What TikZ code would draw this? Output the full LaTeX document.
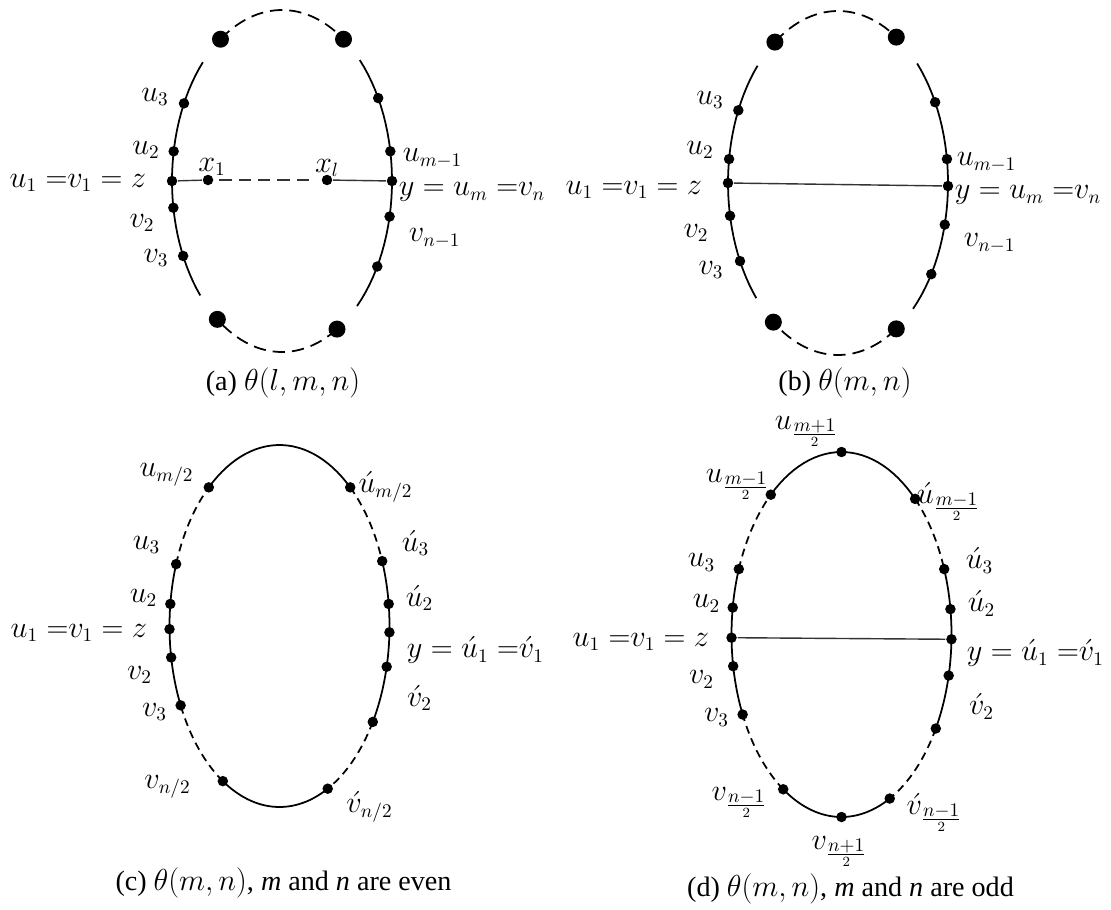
\documentclass[tikz,border=0pt]{standalone}
\usepackage{fontspec}
\setmainfont{Liberation Serif}

\tikzset{
vtx/.style={circle,fill,inner sep=0pt,minimum size=0.21cm},
bigvtx/.style={circle,fill,inner sep=0pt,minimum size=0.34cm},
lbl/.style={font=\fontsize{16}{19}\selectfont,inner sep=0pt},
captxt/.style={font=\fontsize{16}{19}\selectfont,inner sep=0pt},
longdash/.style={dash pattern=on 7pt off 4pt},
shortdash/.style={dash pattern=on 4.5pt off 3pt},
chord/.style={line width=0.8pt,black!80}
}

\begin{document}
\begin{tikzpicture}[x=0.02cm,y=-0.02cm,line width=1pt]

\useasboundingbox (0,0) rectangle (1111,909);

% theta(l,m,n)
\begin{scope}[shift={(282,181)}]
\pgfmathsetmacro{\axa}{110}
\pgfmathsetmacro{\axb}{171}

\draw plot[domain=138:224,samples=30] ({\axa*cos(\x)},{\axb*sin(\x)});
\draw plot[domain=-45:47,samples=30] ({\axa*cos(\x)},{\axb*sin(\x)});
\draw[longdash] plot[domain=236:304,samples=30] ({\axa*cos(\x)},{\axb*sin(\x)});
\draw[longdash] plot[domain=60:126,samples=30] ({\axa*cos(\x)},{\axb*sin(\x)});

\foreach \n/\t in {z/180,u2/190,u3/207,v2/171,v3/154,
um/350,y/0,vn/12,ur/331,vr/30}
{
\node[vtx] (a\n) at ({\axa*cos(\t)},{\axb*sin(\t)}) {};
}
\foreach \n/\t in {tl/236,tr/304,bl/126,br/60}
{
\node[bigvtx] (a\n) at ({\axa*cos(\t)},{\axb*sin(\t)}) {};
}
\node[vtx] (ax1) at (-74,-1) {};
\node[vtx] (axl) at (45,-1) {};

\draw[chord] (az) -- (ax1);
\draw[chord,longdash,shorten <=3pt,shorten >=6pt] (ax1) -- (axl);
\draw[chord] (axl) -- (ay);

\node[lbl] at (-127,-84) {$u_3$};
\node[lbl] at (-136,-31) {$u_2$};
\node[lbl,anchor=east] at (-135,2) {$u_1\;{=}v_1 = z$};
\node[lbl] at (-70,-14) {$x_1$};
\node[lbl] at (45,-13) {$x_l$};
\node[lbl,anchor=west] at (120,-23) {$u_{m-1}$};
\node[lbl,anchor=west] at (116,11) {$y = u_m\;{=}v_n$};
\node[lbl,anchor=west] at (126,57) {$v_{n-1}$};
\node[lbl] at (-140,42) {$v_2$};
\node[lbl] at (-126,77) {$v_3$};
\node[captxt] at (1,202) {(a) $\theta(l,m,n)$};
\end{scope}

% theta(m,n)
\begin{scope}[shift={(838,183)}]
\pgfmathsetmacro{\axa}{110}
\pgfmathsetmacro{\axb}{172}

\draw plot[domain=138:223,samples=30] ({\axa*cos(\x)},{\axb*sin(\x)});
\draw plot[domain=-44:47,samples=30] ({\axa*cos(\x)},{\axb*sin(\x)});
\draw[longdash] plot[domain=235:302,samples=30] ({\axa*cos(\x)},{\axb*sin(\x)});
\draw[longdash] plot[domain=58:126,samples=30] ({\axa*cos(\x)},{\axb*sin(\x)});

\foreach \n/\t in {z/180,u2/188,u3/205,v2/169,v3/153,
um/352,y/1,vn/14,ur/332,vr/32}
{
\node[vtx] (b\n) at ({\axa*cos(\t)},{\axb*sin(\t)}) {};
}
\foreach \n/\t in {tl/235,tr/302,bl/126,br/58}
{
\node[bigvtx] (b\n) at ({\axa*cos(\t)},{\axb*sin(\t)}) {};
}

\draw[chord] (bz) -- (by);

\node[lbl] at (-128,-83) {$u_3$};
\node[lbl] at (-138,-33) {$u_2$};
\node[lbl,anchor=east] at (-135,7) {$u_1\;{=}v_1 = z$};
\node[lbl,anchor=west] at (118,-21) {$u_{m-1}$};
\node[lbl,anchor=west] at (116,12) {$y = u_m\;{=}v_n$};
\node[lbl,anchor=west] at (125,60) {$v_{n-1}$};
\node[lbl] at (-142,50) {$v_2$};
\node[lbl] at (-127,87) {$v_3$};
\node[captxt] at (7,200) {(b) $\theta(m,n)$};
\end{scope}

% m and n even
\begin{scope}[shift={(279.5,626)}]
\pgfmathsetmacro{\axa}{110}
\pgfmathsetmacro{\axb}{181}

\draw plot[domain=230:310,samples=30] ({\axa*cos(\x)},{\axb*sin(\x)});
\draw[shortdash] plot[domain=310:339,samples=20] ({\axa*cos(\x)},{\axb*sin(\x)});
\draw plot[domain=-21:32,samples=30] ({\axa*cos(\x)},{\axb*sin(\x)});
\draw[shortdash] plot[domain=32:64,samples=20] ({\axa*cos(\x)},{\axb*sin(\x)});
\draw plot[domain=64:121,samples=30] ({\axa*cos(\x)},{\axb*sin(\x)});
\draw[shortdash] plot[domain=121:154,samples=20] ({\axa*cos(\x)},{\axb*sin(\x)});
\draw plot[domain=154:200,samples=30] ({\axa*cos(\x)},{\axb*sin(\x)});
\draw[shortdash] plot[domain=200:230,samples=20] ({\axa*cos(\x)},{\axb*sin(\x)});

\foreach \n/\t in {um/230,rum/310,u3/200,ru3/339,u2/187,ru2/353,
z/179,y/2,v2/170,rv2/13,v3/154,rv3/32,vn/121,rvn/64}
{
\node[vtx] (c\n) at ({\axa*cos(\t)},{\axb*sin(\t)}) {};
}

\node[lbl] at (-113,-151) {$u_{m/2}$};
\node[lbl] at (106,-139) {$\acute{u}_{m/2}$};
\node[lbl] at (-133,-81) {$u_3$};
\node[lbl] at (136,-83) {$\acute{u}_3$};
\node[lbl] at (-136,-28) {$u_2$};
\node[lbl] at (140,-28) {$\acute{u}_2$};
\node[lbl,anchor=east] at (-131.5,7) {$u_1\;{=}v_1 = z$};
\node[lbl,anchor=west] at (126.5,24) {$y = \acute{u}_1\;{=}\acute{v}_1$};
\node[lbl] at (-140,49) {$v_2$};
\node[lbl] at (140,72) {$\acute{v}_2$};
\node[lbl] at (-125,86) {$v_3$};
\node[lbl] at (-112,161) {$v_{n/2}$};
\node[lbl] at (90,181) {$\acute{v}_{n/2}$};
\node[captxt] at (4,257) {(c) $\theta(m,n)$, \textit{m} and \textit{n} are even};
\end{scope}

% m and n odd
\begin{scope}[shift={(841.5,634.5)}]
\pgfmathsetmacro{\axa}{110}
\pgfmathsetmacro{\axb}{182.5}

\draw plot[domain=230:312,samples=30] ({\axa*cos(\x)},{\axb*sin(\x)});
\draw[shortdash] plot[domain=312:339,samples=20] ({\axa*cos(\x)},{\axb*sin(\x)});
\draw plot[domain=-21:31,samples=30] ({\axa*cos(\x)},{\axb*sin(\x)});
\draw[shortdash] plot[domain=31:64,samples=20] ({\axa*cos(\x)},{\axb*sin(\x)});
\draw plot[domain=64:122,samples=30] ({\axa*cos(\x)},{\axb*sin(\x)});
\draw[shortdash] plot[domain=122:154,samples=20] ({\axa*cos(\x)},{\axb*sin(\x)});
\draw plot[domain=154:201,samples=30] ({\axa*cos(\x)},{\axb*sin(\x)});
\draw[shortdash] plot[domain=201:230,samples=20] ({\axa*cos(\x)},{\axb*sin(\x)});

\foreach \n/\t in {top/270,um/230,rum/312,u3/201,ru3/339,u2/188.5,ru2/352,
z/179,y/1.5,v2/170,rv2/13,v3/154,rv3/31,vn/122,bot/90,rvn/64}
{
\node[vtx] (d\n) at ({\axa*cos(\t)},{\axb*sin(\t)}) {};
}

\draw[chord] (dz) -- (dy);

\node[lbl] at (-35,-203) {$u_{\frac{\scriptstyle m+1}{2}}$};
\node[lbl] at (-104,-150) {$u_{\frac{\scriptstyle m-1}{2}}$};
\node[lbl] at (107,-133) {$\acute{u}_{\frac{\scriptstyle m-1}{2}}$};
\node[lbl] at (-140,-72) {$u_3$};
\node[lbl] at (138,-74) {$\acute{u}_3$};
\node[lbl] at (-135,-31) {$u_2$};
\node[lbl] at (140,-31) {$\acute{u}_2$};
\node[lbl,anchor=east] at (-131.5,7.5) {$u_1\;{=}v_1 = z$};
\node[lbl,anchor=west] at (124.5,18.5) {$y = \acute{u}_1\;{=}\acute{v}_1$};
\node[lbl] at (-140,45) {$v_2$};
\node[lbl] at (140,72) {$\acute{v}_2$};
\node[lbl] at (-125,83) {$v_3$};
\node[lbl] at (-102,168) {$v_{\frac{\scriptstyle n-1}{2}}$};
\node[lbl] at (93,178) {$\acute{v}_{\frac{\scriptstyle n-1}{2}}$};
\node[lbl] at (-2,217) {$v_{\frac{\scriptstyle n+1}{2}}$};
\node[captxt] at (9,254) {(d) $\theta(m,n)$, \textit{m} and \textit{n} are odd};
\end{scope}

\end{tikzpicture}
\end{document}
